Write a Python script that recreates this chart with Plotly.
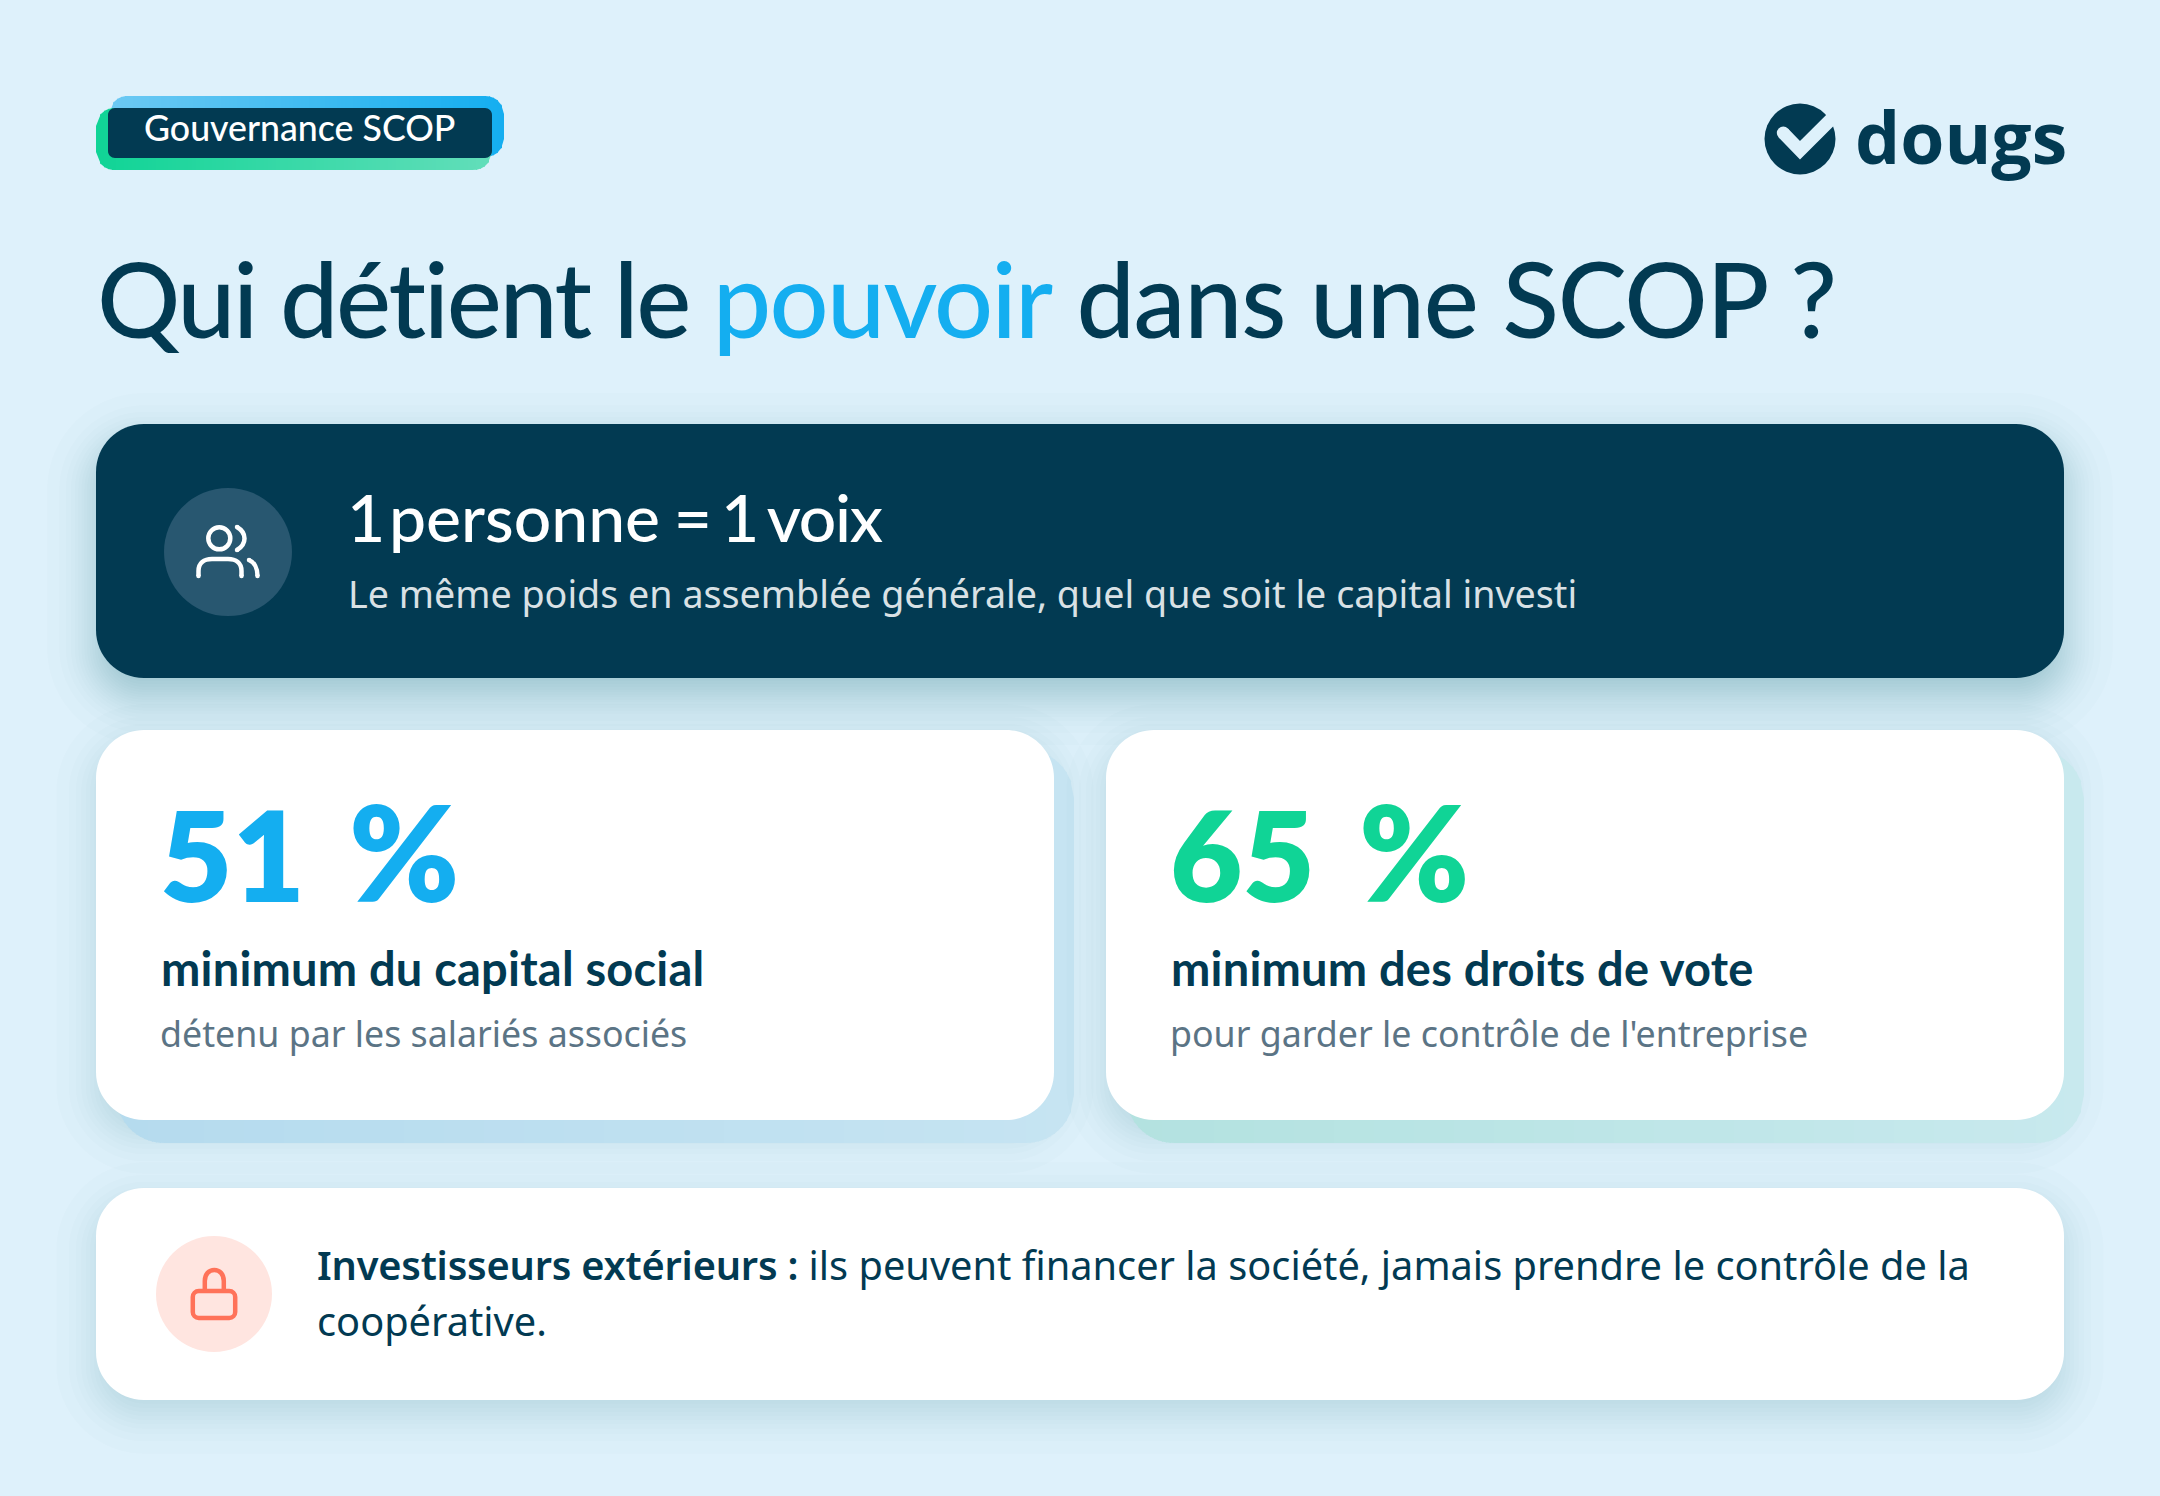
import math
from statistics import NormalDist
import plotly.graph_objects as go

W, H = 2160, 1496

# couleurs
BG = "#DEF1FB"
NAVY = "#023A52"
SKY = "#14AEF0"
MINT = "#10D496"
CORAL = "#FF7259"
GREY = "#5B7485"

# textes et valeurs
badge_label = "Gouvernance SCOP"
brand = "dougs"
title_parts = ["Qui détient le ", "pouvoir", " dans une SCOP ?"]
banner_parts = ["1 ", "personne ", "= 1 voix"]
banner_sub = "Le même poids en assemblée générale, quel que soit le capital investi"
percents = [51, 65]
stat_labels = ["minimum du capital social", "minimum des droits de vote"]
stat_subs = ["détenu par les salariés associés", "pour garder le contrôle de l'entreprise"]
note_bold = "Investisseurs extérieurs :"
note_lines = ["ils peuvent financer la société, jamais prendre le contrôle de la", "coopérative."]

HEAD_FONT = "Lato"
BODY_FONT = "Noto Sans"
KAPPA = 0.5523

shapes = []
annotations = []


def rr_path(x0, y0, x1, y1, r):
    # plotly ne gère pas les arcs A dans les paths : courbes de Bézier
    r = max(0, min(r, (x1 - x0) / 2, (y1 - y0) / 2))
    k = r * (1 - KAPPA)
    return (f"M{x0 + r},{y0} L{x1 - r},{y0} C{x1 - k},{y0} {x1},{y0 + k} {x1},{y0 + r} "
            f"L{x1},{y1 - r} C{x1},{y1 - k} {x1 - k},{y1} {x1 - r},{y1} "
            f"L{x0 + r},{y1} C{x0 + k},{y1} {x0},{y1 - k} {x0},{y1 - r} "
            f"L{x0},{y0 + r} C{x0},{y0 + k} {x0 + k},{y0} {x0 + r},{y0} Z")


def add_path(path, fill=None, line=None, width=0):
    shapes.append(dict(type="path", path=path, xref="x", yref="y", layer="below",
                       fillcolor=fill if fill else "rgba(0,0,0,0)",
                       line=dict(color=line if line else "rgba(0,0,0,0)", width=width)))


def add_circle(cx, cy, r, fill=None, line=None, width=0):
    shapes.append(dict(type="circle", xref="x", yref="y", layer="below",
                       fillcolor=fill if fill else "rgba(0,0,0,0)",
                       x0=cx - r, x1=cx + r, y0=cy - r, y1=cy + r,
                       line=dict(color=line if line else "rgba(0,0,0,0)", width=width)))


def add_stroke(path, color, width, ends):
    add_path(path, line=color, width=width)
    for px, py in ends:  # bouts arrondis
        add_circle(px, py, width / 2, color)


def add_shadow(x0, y0, x1, y1, r, dy, sigma, alpha, n=14):
    step = 1 - (1 - alpha) ** (1 / n)
    for i in range(n):
        s = sigma * NormalDist().inv_cdf(1 - (i + 0.5) / n)
        add_path(rr_path(x0 - s, y0 - s + dy, x1 + s, y1 + s + dy, r + s),
                 fill=f"rgba(2,58,82,{step:.4f})")


def mix(c1, c2, t):
    a = [int(c1[i:i + 2], 16) for i in (1, 3, 5)]
    b = [int(c2[i:i + 2], 16) for i in (1, 3, 5)]
    return "rgb(" + ",".join(str(round(u + (v - u) * t)) for u, v in zip(a, b)) + ")"


def gradient_rr(x0, y0, x1, y1, r, c_left, c_right, step=4, mid_step=None):
    # pas de dégradé sur les shapes : bandes verticales
    def inset(px):
        if px < x0 + r:
            return r - math.sqrt(max(0, r * r - (x0 + r - px) ** 2))
        if px > x1 - r:
            return r - math.sqrt(max(0, r * r - (px - x1 + r) ** 2))
        return 0
    x = x0
    while x < x1:
        dx = step
        if mid_step and x0 + r <= x < x1 - r:
            dx = min(mid_step, x1 - r - x)
        xa, xb = x, min(x + dx + 1, x1)
        ia, ib = inset(xa), inset(xb)
        t = (x - x0) / (x1 - x0)
        add_path(f"M{xa},{y0 + ia} L{xb},{y0 + ib} L{xb},{y1 - ib} L{xa},{y1 - ia} Z", fill=mix(c_left, c_right, t))
        x += dx


def spaced(text, letters=0, words=0, extra=""):
    return (f'<span style="letter-spacing:{letters}px;word-spacing:{words}px;'
            f'font-variant-ligatures:none;{extra}">{text}</span>')


def add_text(x, y, text, size, color, font=BODY_FONT, weight=400):
    annotations.append(dict(x=x, y=y, xref="x", yref="y", text=text, showarrow=False,
                            xanchor="left", yanchor="middle", align="left", borderpad=0,
                            font=dict(family=font, size=size, color=color, weight=weight)))


# badge
gradient_rr(109, 96, 504, 157, 18, "#6CC9F3", SKY)
gradient_rr(96, 108, 492, 170, 18, MINT, "#63DEBA")
add_path(rr_path(108, 108, 492, 158, 7), fill=NAVY)
add_text(143, 127, badge_label, 35.7, "white", HEAD_FONT, 500)

# logo
add_circle(1800, 139, 35.5, NAVY)
add_path("M1778.7,137.6 L1800,159.5 L1844.6,114.9 L1835.4,105.7 L1800,141.1 L1787.9,128.4 Z", fill=BG)
add_circle(1783.3, 133, 6.5, BG)
add_text(1854, 136.5, brand, 71.4, NAVY, "Open Sans", 700)

# titre
title_html = (spaced(title_parts[0], -2.35)
              + spaced(title_parts[1], -1.75, extra=f"color:{SKY}")
              + spaced(title_parts[2], -1.3))
add_text(96, 297, title_html, 104, NAVY, HEAD_FONT, 500)

# bandeau
add_shadow(96, 424, 2064, 678, 48, 18, 24, 0.22, n=24)
add_path(rr_path(96, 424, 2064, 678, 48), fill=NAVY)
add_circle(228, 552, 64, "#285770")
WH = "white"
add_circle(219.3, 538.3, 11, line=WH, width=4.5)
add_stroke("M237,527 C247,533 247,544 237,550", WH, 4.5, [(237, 527), (237, 550)])
add_stroke("M198.5,576 L198.5,571 C198.5,563 204,559 212,559 L228,559 C236,559 241.5,563 241.5,571 L241.5,576", WH, 4.5,
           [(198.5, 576), (241.5, 576)])
add_stroke("M249,560 C254,562 257.5,568 257.5,576", WH, 4.5, [(249, 560), (257.5, 576)])
banner_html = (spaced(banner_parts[0], -1, -11) + spaced(banner_parts[1], 0, -3) + spaced(banner_parts[2], -1.3, -5))
add_text(346, 516, banner_html, 66, "white", HEAD_FONT, 500)
add_text(346.6, 593.6, banner_sub, 37.66, "#D9E1E5")

# cartes
card_x = [(96, 1054), (1106, 2064)]
card_colors = [SKY, MINT]
plate_left = ["#B5DBEE", "#B3E2E0"]
plate_right = ["#C6E4F2", "#C8E9EE"]
for i in range(2):
    x0, x1 = card_x[i]
    add_shadow(x0, 730, x1, 1120, 48, 14, 22, 0.13)
    gradient_rr(x0 + 20, 750, x1 + 20, 1143, 48, plate_left[i], plate_right[i], step=4, mid_step=40)
    add_path(rr_path(x0, 730, x1, 1120, 48), fill="white")
    add_text(x0 + 63, 851, f'{percents[i]}<span style="letter-spacing:15px"> </span><span style="font-size:132px">%</span>',
             125, card_colors[i], HEAD_FONT, 800)
    add_text(x0 + 64, 968, spaced(stat_labels[i], 0.2), 47, NAVY, HEAD_FONT, 700)
    add_text(x0 + 63, 1032.6, stat_subs[i], 35.75, GREY)

# note investisseurs
add_shadow(96, 1188, 2064, 1400, 48, 14, 22, 0.13)
add_path(rr_path(96, 1188, 2064, 1400, 48), fill="white")
add_circle(214, 1294, 58, "#FFE5E0")
add_path(rr_path(192.8, 1291, 235.2, 1318, 6), line=CORAL, width=4.5)
add_path("M204.8,1289 L204.8,1281 C204.8,1274 209,1270 214.3,1270 C219.6,1270 223.8,1274 223.8,1281 L223.8,1289",
         line=CORAL, width=4.5)
add_text(315.5, 1264.6, f'<span style="font-weight:600;letter-spacing:-0.2px">{note_bold}</span> {note_lines[0]}', 39.75, NAVY)
add_text(315.5, 1320.6, note_lines[1], 39.75, NAVY)

fig = go.Figure()
fig.update_layout(
    width=W, height=H, margin=dict(l=0, r=0, t=0, b=0),
    paper_bgcolor=BG, plot_bgcolor=BG, showlegend=False,
    xaxis=dict(range=[0, W], visible=False, fixedrange=True),
    yaxis=dict(range=[H, 0], visible=False, fixedrange=True),
    shapes=shapes, annotations=annotations,
)
fig.write_html("out.html", config=dict(displayModeBar=False),
               post_script="document.body.style.margin='0';document.body.style.overflow='hidden';")
